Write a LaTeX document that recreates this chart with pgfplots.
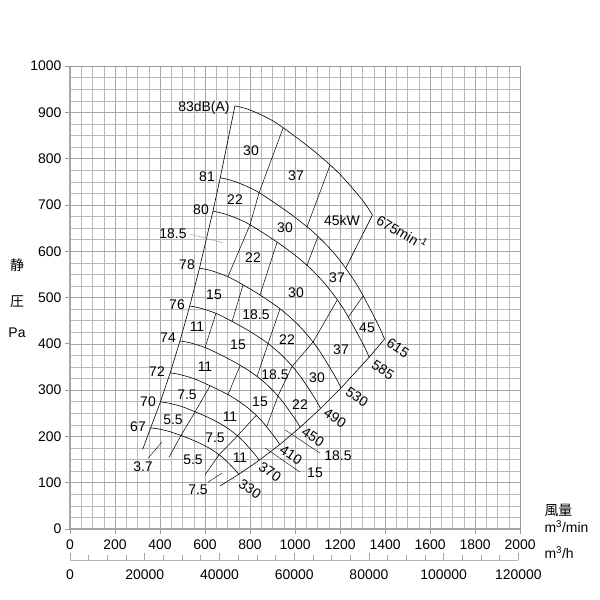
\documentclass[border=0pt]{standalone}
\usepackage{fontspec}
\setmainfont{Liberation Sans}
\newfontfamily\cjk{Noto Sans CJK JP}
\usepackage{pgfplots}
\pgfplotsset{compat=1.18}

% one divider / leader segment in axis coordinates
\newcommand{\seg}[4]{\addplot[black, line width=0.5bp] coordinates {(#1,#2) (#3,#4)};}

\begin{document}
\begin{tikzpicture}[x=1bp, y=1bp, font=\fontsize{14}{16}\selectfont]
\useasboundingbox (0,0) rectangle (600,600);

\begin{axis}[
  at={(70bp,71bp)}, anchor=south west,
  x=0.225bp, y=0.463bp,
  xmin=0, xmax=2000, ymin=0, ymax=1000,
  axis x line*=bottom, axis y line*=left,
  axis line style={gray!70, line width=1.6bp},
  xtick={0,200,...,2000}, ytick={0,100,...,1000},
  minor x tick num=3, minor y tick num=3,
  grid=both,
  major grid style={gray!70, line width=0.5bp},
  minor grid style={gray!55, line width=0.4bp},
  tick align=outside, major tick length=5bp, minor tick length=0pt,
  tick style={gray!80, line width=0.6bp},
  xticklabel style={yshift=-2bp},
  /pgf/number format/fixed,
  /pgf/number format/assume math mode=true,
  /pgf/number format/1000 sep={},
  scaled ticks=false,
  clip=false,
]
% top and right border
\addplot[gray!80, line width=0.6bp] coordinates {(0,1000) (2000,1000) (2000,0)};

% speed curves
\addplot[black, line width=0.6bp, smooth] coordinates {(733,914) (800,905) (900,882) (1000,848) (1100,810) (1200,766) (1300,710) (1344,678)};
\addplot[black, line width=0.6bp, smooth] coordinates {(667.8,758.7) (728.9,751.2) (820,732.1) (911.1,703.9) (1002.2,672.4) (1093.3,635.9) (1184.4,589.4) (1275.5,527.1) (1366.7,444.1) (1397.6,410.1)};
\addplot[black, line width=0.6bp, smooth] coordinates {(635.3,686.5) (693.4,679.7) (780,662.5) (866.7,636.9) (953.3,608.4) (1040,575.3) (1126.7,533.3) (1213.3,477) (1300,401.8) (1329.5,371)};
\addplot[black, line width=0.6bp, smooth] coordinates {(575.5,563.5) (628.1,557.9) (706.7,543.8) (785.2,522.8) (863.7,499.4) (942.2,472.2) (1020.7,437.7) (1099.2,391.5) (1177.8,329.8) (1204.5,304.5)};
\addplot[black, line width=0.6bp, smooth] coordinates {(532.1,481.7) (580.7,476.9) (653.3,464.8) (725.9,446.9) (798.5,426.9) (871.1,403.7) (943.7,374.2) (1016.3,334.6) (1088.9,281.9) (1113.5,260.3)};
\addplot[black, line width=0.6bp, smooth] coordinates {(488.7,406.2) (533.3,402.2) (600,392) (666.7,376.9) (733.3,360) (800,340.4) (866.7,315.6) (933.3,282.2) (1000,237.8) (1022.7,219.6)};
\addplot[black, line width=0.6bp, smooth] coordinates {(445.2,337.2) (485.9,333.9) (546.7,325.4) (607.4,312.8) (668.1,298.8) (728.9,282.6) (789.6,261.9) (850.4,234.3) (911.1,197.4) (931.8,182.2)};
\addplot[black, line width=0.6bp, smooth] coordinates {(401.8,274.6) (438.5,271.9) (493.3,265) (548.1,254.8) (602.9,243.4) (657.8,230.2) (712.6,213.4) (767.4,190.8) (822.2,160.8) (840.8,148.4)};
\addplot[black, line width=0.6bp, smooth] coordinates {(358.4,218.4) (391.1,216.3) (440,210.8) (488.9,202.7) (537.8,193.6) (586.7,183.1) (635.6,169.7) (684.4,151.8) (733.3,127.9) (750,118.1)};

% boundaries
\addplot[black, line width=0.6bp] coordinates {(733,914) (667.8,758.7) (635.3,686.5) (575.5,563.5) (532.1,481.7) (488.7,406.2) (445.2,337.2) (401.8,274.6) (358.4,218.4) (323,172)};
\addplot[black, line width=0.6bp] coordinates {(1397.6,410.1) (1329.5,371) (1204.5,304.5) (1113.5,260.3) (1022.7,219.6) (931.8,182.2) (840.8,148.4) (750,118.1) (667,93)};
\addplot[black, line width=0.6bp] coordinates {(1344,678) (1284,620) (1224.5,562.8)};

% motor kW dividers
\seg{947}{866}{840}{726}
\seg{1156}{786}{1053}{652}
\seg{840}{726}{800}{657}
\seg{1102}{632}{1053}{569}
\seg{1302}{503}{1236}{457}
\seg{800}{657}{702}{545}
\seg{920}{619}{844}{505}
\seg{1187}{494}{1080}{404}
\seg{769}{527}{720}{448}
\seg{933}{475}{880}{400}
\seg{1080}{404}{987}{351}
\seg{649}{466}{600}{392}
\seg{880}{400}{831}{329}
\seg{987}{351}{924}{287}
\seg{756}{353}{702}{290}
\seg{924}{287}{875}{222}
\seg{622}{309}{556}{253}
\seg{827}{245}{742}{200}
\seg{556}{253}{493}{202}
\seg{742}{200}{662}{160}
\seg{493}{202}{440}{155}
\seg{662}{160}{600}{117}

% leaders
\addplot[gray!70, line width=0.5bp] coordinates {(533,637) (680,618)};
\addplot[black, line width=0.4bp] coordinates {(956,214) (1111,164)};
\addplot[black, line width=0.4bp] coordinates {(867,175) (1022,123)};
\addplot[black, line width=0.4bp] coordinates {(347,153) (409,188)};
\addplot[black, line width=0.4bp] coordinates {(613,101) (676,121)};
\end{axis}

% second scale in m3/h
\begin{axis}[
  at={(70bp,40bp)}, anchor=south west,
  x=0.00375bp, y=1bp,
  xmin=0, xmax=120000, ymin=0, ymax=1,
  axis x line*=bottom, hide y axis,
  axis line style={gray!60, line width=0.8bp},
  xtick={0,20000,...,120000},
  minor xtick={5000,10000,...,115000},
  tick align=inside, major tick length=7bp, minor tick length=5bp,
  tick style={gray!70, line width=0.6bp},
  /pgf/number format/fixed,
  /pgf/number format/assume math mode=true,
  /pgf/number format/1000 sep={},
  scaled ticks=false,
  xticklabel style={yshift=-6bp},
]
\addplot[draw=none] coordinates {(0,0)};
\end{axis}

% axis titles
\node at (17,335) {\cjk 静};
\node at (17,298) {\cjk 圧};
\node at (17,267) {Pa};
\node[anchor=west] at (541,90) {\cjk 風量};
\node[anchor=west] at (541,73) {m\textsuperscript{3}/min};
\node[anchor=west] at (541,47) {m\textsuperscript{3}/h};

% sound levels
\node at (204,492) {83dB(A)};
\node at (207,423) {81};
\node at (201,390) {80};
\node at (173,366) {18.5};
\node at (187,335) {78};
\node at (177,295) {76};
\node at (168,262) {74};
\node at (157,228) {72};
\node at (148,198) {70};
\node at (138,173) {67};
\node at (143,133) {3.7};

% motor kW
\node at (251,449) {30};
\node at (296,424) {37};
\node at (342,379) {45kW};
\node at (235,400) {22};
\node at (285,372) {30};
\node at (337,322) {37};
\node at (367,272) {45};
\node at (253,342) {22};
\node at (296,307) {30};
\node at (341,250) {37};
\node at (214,305) {15};
\node at (256,285) {18.5};
\node at (287,260) {22};
\node at (317,222) {30};
\node at (197,273) {11};
\node at (238,255) {15};
\node at (275,225) {18.5};
\node at (300,195) {22};
\node at (205,233) {11};
\node at (260,198) {15};
\node at (338,144) {18.5};
\node at (187,205) {7.5};
\node at (230,183) {11};
\node at (315,127) {15};
\node at (173,180) {5.5};
\node at (215,162) {7.5};
\node at (240,142) {11};
\node at (193,140) {5.5};
\node at (198,110) {7.5};

% speeds
\node[rotate=-30] at (402,368) {675min\textsuperscript{-1}};
\node[rotate=-33] at (398,252) {615};
\node[rotate=-33] at (383,230) {585};
\node[rotate=-33] at (357,203) {530};
\node[rotate=-33] at (335,182) {490};
\node[rotate=-33] at (313,163) {450};
\node[rotate=-33] at (291,145) {410};
\node[rotate=-33] at (270,128) {370};
\node[rotate=-33] at (250,111) {330};
\end{tikzpicture}
\end{document}
